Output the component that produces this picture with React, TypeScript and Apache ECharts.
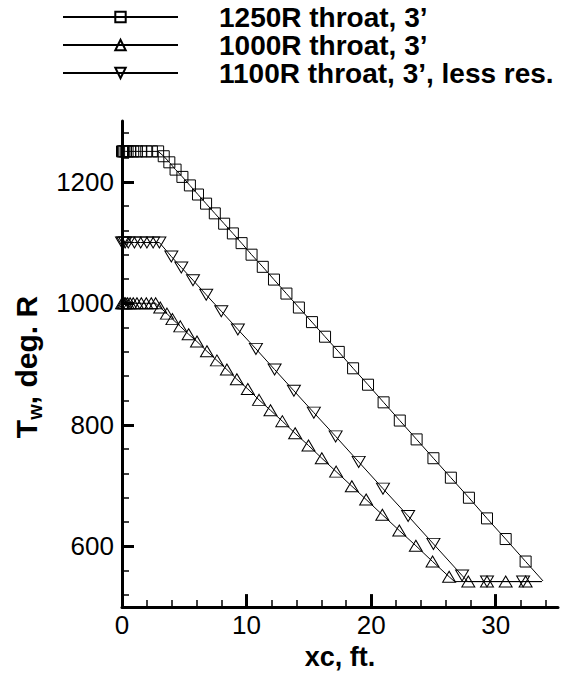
import React, { useEffect, useRef } from 'react';
import * as echarts from 'echarts';

const FONT = "'Liberation Sans', Arial, Helvetica, sans-serif";

// ---- Series names ----
const seriesNames = ['1250R throat, 3\u2019', '1000R throat, 3\u2019', '1100R throat, 3\u2019, less res.'];

// ---- 1250R throat (squares) ----
const sqX = [0, 0.08, 0.18, 0.3, 0.45, 0.65, 0.9, 1.2, 1.55, 1.95, 2.4, 2.9,
  3.35, 3.8, 4.3, 4.85, 5.45, 6.1, 6.75, 7.45, 8.2, 8.9, 9.6, 10.4, 11.3, 12.2, 13.2, 14.2,
  15.25, 16.3, 17.4, 18.55, 19.75, 21.0, 22.3, 23.65, 25.0, 26.4, 27.85, 29.3, 30.8, 32.4];
const sqY = [1250, 1250, 1250, 1250, 1250, 1250, 1250, 1250, 1250, 1250, 1250, 1250,
  1242, 1232, 1220, 1208, 1194, 1179, 1164, 1148, 1131, 1115, 1099, 1080, 1060, 1039, 1016, 993,
  969, 945, 920, 893, 866, 837, 807, 776, 745, 713, 680, 646, 612, 575];
const sqLineOnlyX = [33.8];
const sqLineOnlyY = [543];

// ---- 1000R throat (triangles) ----
const triX = [0, 0.08, 0.18, 0.3, 0.45, 0.65, 0.9, 1.2, 1.55, 1.95, 2.35, 2.7,
  3.07, 3.61, 4.05, 4.68, 5.35, 6.02, 6.82, 7.62, 8.42, 9.22, 10.1, 11.0, 11.92, 12.87, 13.9,
  14.97, 16.04, 17.19, 18.45, 19.6, 20.9, 22.26, 23.59, 24.93, 26.26,
  27.8, 29.3, 30.8, 32.4];
const triY = [1000, 1000, 1000, 1000, 1000, 1000, 1000, 1000, 1000, 1000, 1000, 1000,
  993, 983, 974, 962, 949, 937, 921, 906, 891, 875, 859, 841, 824, 806, 786,
  766, 745, 723, 699, 677, 652, 626, 601, 575, 550,
  542, 542, 542, 542];
const triLineOnlyX = [26.7, 33.7];
const triLineOnlyY = [542, 542];

// ---- 1100R throat, less res. (inverted triangles) ----
const invX = [0, 0.1, 0.25, 0.5, 1.0, 1.5, 2.0, 2.5, 3.0,
  3.96, 4.76, 5.7, 6.76, 7.97, 9.3, 10.75, 12.25, 13.8, 15.4, 17.15, 19.0, 20.95, 22.97, 25.0, 27.3,
  29.3, 32.2];
const invY = [1100, 1100, 1100, 1100, 1100, 1100, 1100, 1100, 1100,
  1077, 1059, 1038, 1014, 987, 957, 925, 891, 856, 820, 781, 739, 695, 650, 604, 552,
  542, 542];
const invLineOnlyX = [27.75, 33.7];
const invLineOnlyY = [542, 542];

// ---- Axis ticks ----
const xMajorTicks = [0, 10, 20, 30];
const xMinorTicks = [2, 4, 6, 8, 12, 14, 16, 18, 22, 24, 26, 28, 32, 34];
const yMajorTicks = [600, 800, 1000, 1200];
const yMinorTicks = [520, 560, 640, 680, 720, 760, 840, 880, 920, 960, 1040, 1080, 1120, 1160, 1240, 1280];

function buildData(mx: number[], my: number[], lx: number[], ly: number[]) {
  const pts: any[] = mx.map((x, i) => ({ value: [x, my[i]] }));
  lx.forEach((x, i) => pts.push({ value: [x, ly[i]], symbol: 'none' }));
  pts.sort((a, b) => a.value[0] - b.value[0]);
  return pts;
}

const INV_TRI = 'path://M0 0 L10 0 L5 9 Z';

export default function App() {
  const ref = useRef<HTMLDivElement>(null);
  useEffect(() => {
    const chart = echarts.init(ref.current!, null, { renderer: 'svg' });
    const markerStyle = { color: 'rgba(0,0,0,0)', borderColor: '#000', borderWidth: 1 };
    const lineStyle = { color: '#000', width: 1 };
    const baseAxisLine = { show: true, onZero: false, lineStyle: { color: '#000', width: 3 } };
    const plain = (v: number) => String(v);
    const option: any = {
      animation: false,
      backgroundColor: '#fff',
      textStyle: { fontFamily: FONT },
      grid: { left: 122, right: 12, top: 121, bottom: 60, containLabel: false },
      legend: {
        orient: 'vertical',
        left: 62,
        top: 3,
        padding: 0,
        itemWidth: 115,
        itemHeight: 13,
        itemGap: 0,
        selectedMode: false,
        data: seriesNames,
        textStyle: { fontFamily: FONT, fontSize: 28, fontWeight: 'bold', color: '#000', padding: [0, 0, 0, 36] },
      },
      xAxis: [
        {
          type: 'value', min: 0, max: 35, position: 'bottom',
          axisLine: baseAxisLine,
          axisTick: { show: true, inside: true, length: 13, customValues: xMajorTicks, lineStyle: { color: '#000', width: 3 } },
          axisLabel: { customValues: xMajorTicks, formatter: plain, fontSize: 26, color: '#000', fontFamily: FONT, margin: 5 },
          splitLine: { show: false },
          name: 'xc, ft.', nameLocation: 'middle', nameGap: 30,
          nameTextStyle: { fontFamily: FONT, fontSize: 27, fontWeight: 'bold', color: '#000' },
        },
        {
          type: 'value', min: 0, max: 35, position: 'bottom',
          axisLine: { show: false, onZero: false },
          axisTick: { show: true, inside: true, length: 7, customValues: xMinorTicks, lineStyle: { color: '#000', width: 1.5 } },
          axisLabel: { show: false },
          splitLine: { show: false },
        },
      ],
      yAxis: [
        {
          type: 'value', min: 500, max: 1300, position: 'left',
          axisLine: baseAxisLine,
          axisTick: { show: true, inside: true, length: 12, customValues: yMajorTicks, lineStyle: { color: '#000', width: 3 } },
          axisLabel: { customValues: yMajorTicks, formatter: plain, fontSize: 26, color: '#000', fontFamily: FONT, margin: 8 },
          splitLine: { show: false },
          name: '{a|T}{b|w}{a|, deg. R}', nameLocation: 'middle', nameGap: 60,
          nameTextStyle: {
            padding: [0, 6, 0, 0],
            rich: {
              a: { fontFamily: FONT, fontSize: 30, fontWeight: 'bold', color: '#000', lineHeight: 38, verticalAlign: 'middle' },
              b: { fontFamily: FONT, fontSize: 20, fontWeight: 'bold', color: '#000', lineHeight: 20, verticalAlign: 'bottom' },
            },
          },
        },
        {
          type: 'value', min: 500, max: 1300, position: 'left',
          axisLine: { show: false, onZero: false },
          axisTick: { show: true, inside: true, length: 7, customValues: yMinorTicks, lineStyle: { color: '#000', width: 1.5 } },
          axisLabel: { show: false },
          splitLine: { show: false },
        },
      ],
      series: [
        {
          name: seriesNames[0], type: 'line', xAxisIndex: 0, yAxisIndex: 0,
          data: buildData(sqX, sqY, sqLineOnlyX, sqLineOnlyY),
          symbol: 'rect', symbolSize: 11, itemStyle: markerStyle, lineStyle, z: 3,
        },
        {
          name: seriesNames[1], type: 'line', xAxisIndex: 0, yAxisIndex: 0,
          data: buildData(triX, triY, triLineOnlyX, triLineOnlyY),
          symbol: 'triangle', symbolSize: [13, 11], itemStyle: markerStyle, lineStyle, z: 3,
        },
        {
          name: seriesNames[2], type: 'line', xAxisIndex: 0, yAxisIndex: 0,
          data: buildData(invX, invY, invLineOnlyX, invLineOnlyY),
          symbol: INV_TRI, symbolSize: [13, 11], itemStyle: markerStyle, lineStyle, z: 3,
        },
      ],
    };
    chart.setOption(option);
    return () => chart.dispose();
  }, []);
  return <div ref={ref} style={{ position: 'fixed', left: 0, top: 0, width: 570, height: 675, background: '#fff' }} />;
}
